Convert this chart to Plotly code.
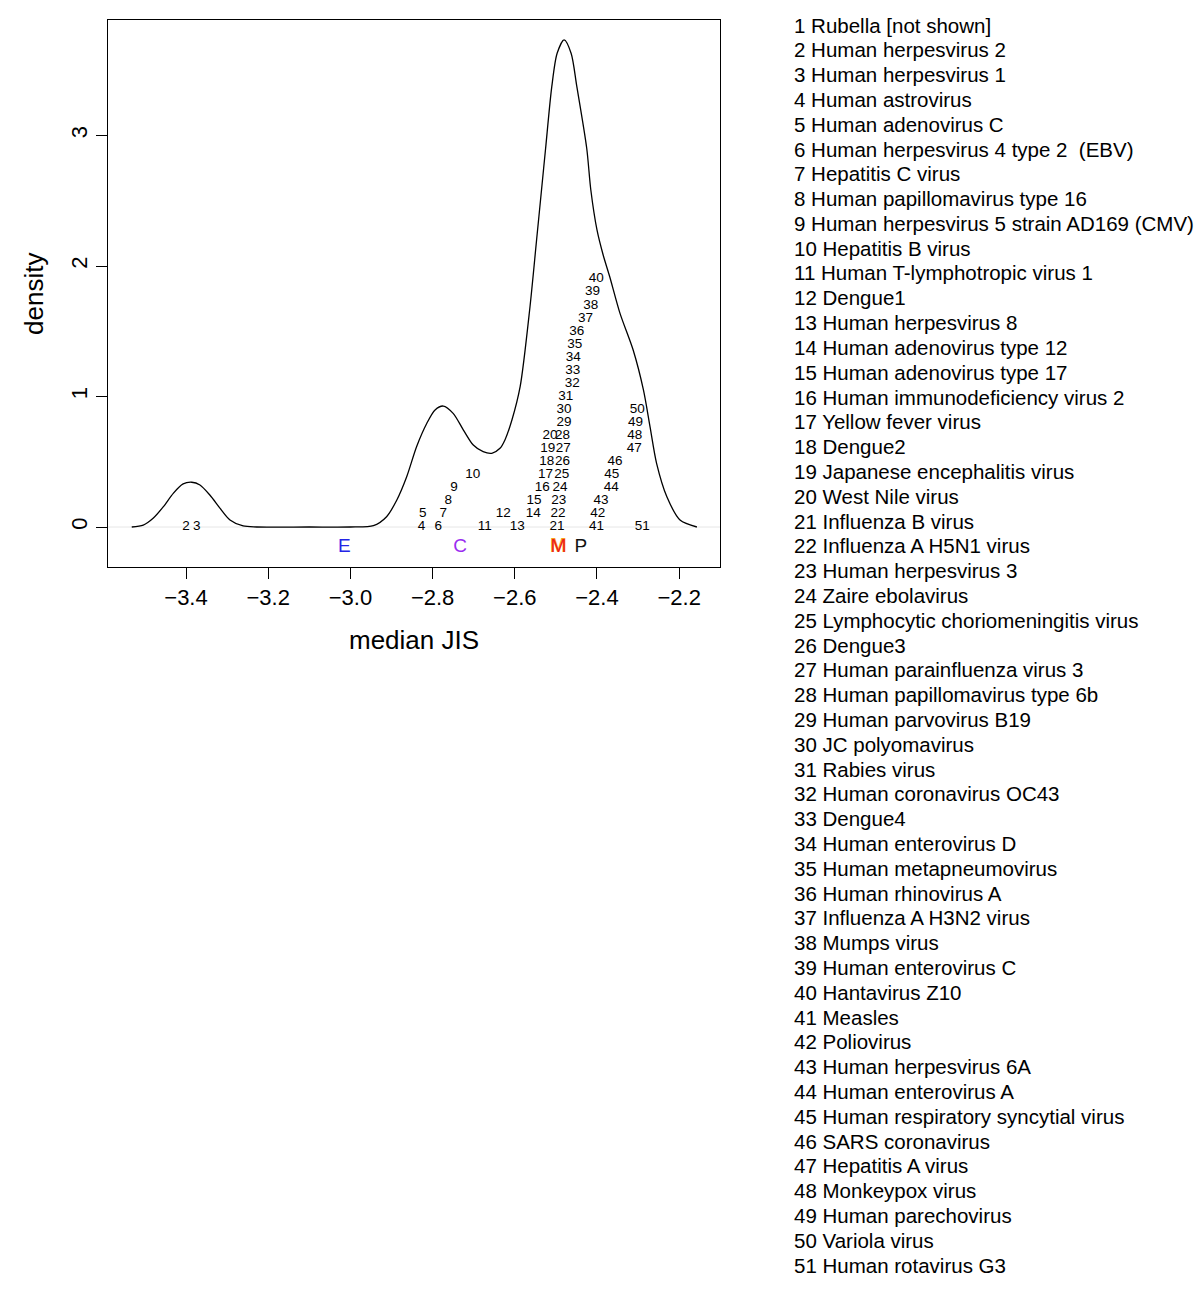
import plotly.graph_objects as go

# ---------------- data ----------------
# density curve (median JIS, density)
curve_x = [-3.532, -3.504, -3.480, -3.455, -3.431, -3.407, -3.386, -3.366, -3.342, -3.317,
           -3.293, -3.261, -3.228, -3.100, -3.000, -2.944, -2.912, -2.887, -2.863, -2.839,
           -2.814, -2.794, -2.774, -2.750, -2.725, -2.701, -2.677, -2.656, -2.636, -2.624,
           -2.607, -2.587, -2.563, -2.547, -2.535, -2.525, -2.510, -2.497, -2.480, -2.463,
           -2.449, -2.425, -2.415, -2.400, -2.385, -2.369, -2.344, -2.312, -2.287, -2.271,
           -2.255, -2.230, -2.198, -2.157]
curve_y = [0.000, 0.015, 0.067, 0.156, 0.258, 0.330, 0.343, 0.322, 0.245, 0.143,
           0.054, 0.008, 0.000, 0.000, 0.000, 0.010, 0.079, 0.207, 0.385, 0.615,
           0.795, 0.897, 0.927, 0.871, 0.743, 0.628, 0.577, 0.565, 0.603, 0.667,
           0.820, 1.075, 1.688, 2.199, 2.582, 2.902, 3.374, 3.630, 3.732, 3.630,
           3.374, 2.902, 2.582, 2.276, 2.084, 1.918, 1.637, 1.356, 1.050, 0.769,
           0.488, 0.232, 0.054, 0.000]

# virus numbers, their median JIS and stacking level
virus_id = list(range(2, 52))
virus_jis = [-3.400, -3.374, -2.827, -2.824, -2.786, -2.774, -2.762, -2.748, -2.702, -2.673,
             -2.628, -2.594, -2.555, -2.553, -2.533, -2.525, -2.522, -2.520, -2.514, -2.497,
             -2.495, -2.493, -2.490, -2.486, -2.484, -2.482, -2.484, -2.480, -2.480, -2.476,
             -2.460, -2.459, -2.458, -2.454, -2.449, -2.428, -2.415, -2.411, -2.402, -2.401,
             -2.398, -2.390, -2.365, -2.364, -2.356, -2.309, -2.308, -2.306, -2.302, -2.290]
virus_level = [0, 0, 0, 1, 0, 1, 2, 3, 4, 0,
               1, 0, 1, 2, 3, 4, 5, 6, 7, 0,
               1, 2, 3, 4, 5, 6, 7, 8, 9, 10,
               11, 12, 13, 14, 15, 16, 17, 18, 19, 0,
               1, 2, 3, 4, 5, 6, 7, 8, 9, 0]

# group markers along the axis
group_letters = ["E", "C", "M", "P"]
group_jis = [-3.015, -2.733, -2.494, -2.439]
group_colors = ["#2424e6", "#9a2cf0", "#ee1c1c", "#111111"]

legend_names = [
    "Rubella [not shown]", "Human herpesvirus 2", "Human herpesvirus 1", "Human astrovirus",
    "Human adenovirus C", "Human herpesvirus 4 type 2  (EBV)", "Hepatitis C virus",
    "Human papillomavirus type 16", "Human herpesvirus 5 strain AD169 (CMV)", "Hepatitis B virus",
    "Human T-lymphotropic virus 1", "Dengue1", "Human herpesvirus 8", "Human adenovirus type 12",
    "Human adenovirus type 17", "Human immunodeficiency virus 2", "Yellow fever virus", "Dengue2",
    "Japanese encephalitis virus", "West Nile virus", "Influenza B virus", "Influenza A H5N1 virus",
    "Human herpesvirus 3", "Zaire ebolavirus", "Lymphocytic choriomeningitis virus", "Dengue3",
    "Human parainfluenza virus 3", "Human papillomavirus type 6b", "Human parvovirus B19",
    "JC polyomavirus", "Rabies virus", "Human coronavirus OC43", "Dengue4", "Human enterovirus D",
    "Human metapneumovirus", "Human rhinovirus A", "Influenza A H3N2 virus", "Mumps virus",
    "Human enterovirus C", "Hantavirus Z10", "Measles", "Poliovirus", "Human herpesvirus 6A",
    "Human enterovirus A", "Human respiratory syncytial virus", "SARS coronavirus",
    "Hepatitis A virus", "Monkeypox virus", "Human parechovirus", "Variola virus",
    "Human rotavirus G3"]

x_ticks = [-3.4, -3.2, -3.0, -2.8, -2.6, -2.4, -2.2]
y_ticks = [0, 1, 2, 3]

# ---------------- layout constants (pixels) ----------------
W, H = 1200, 1289
PL, PR, PT, PB = 108, 720, 20, 567
FONT = "Liberation Sans, Arial, Helvetica, sans-serif"

fig = go.Figure()

fig.add_trace(go.Scatter(x=curve_x, y=curve_y, mode="lines",
                         line=dict(color="black", width=1.3, shape="spline", smoothing=0.8),
                         hoverinfo="skip", showlegend=False))

fig.add_trace(go.Scatter(x=virus_jis, y=[0.1 * l for l in virus_level], mode="text",
                         text=[str(i) for i in virus_id],
                         textfont=dict(family=FONT, size=13.5, color="black"),
                         textposition="middle center", showlegend=False))

# orange letter under the red M
fig.add_trace(go.Scatter(x=[group_jis[2]], y=[-0.153], mode="text", text=["<b>M</b>"],
                         textfont=dict(family=FONT, size=20, color="#f7a21b"),
                         showlegend=False))
fig.add_trace(go.Scatter(x=group_jis, y=[-0.153] * len(group_jis), mode="text",
                         text=group_letters,
                         textfont=dict(family=FONT, size=19, color=group_colors),
                         showlegend=False))

fig.add_shape(type="line", xref="x domain", yref="y", x0=0, x1=1, y0=0, y1=0,
              line=dict(color="#e6e6e6", width=1), layer="below")

annotations = []
for i, name in enumerate(legend_names):
    py = 25 + i * 24.8
    annotations.append(dict(text=f"{i + 1} {name}", xref="paper", yref="paper",
                            x=792 / W, y=1 - py / H, xanchor="left", yanchor="middle",
                            showarrow=False, font=dict(family=FONT, size=20.5, color="black")))
annotations.append(dict(text="median JIS", xref="paper", yref="paper",
                        x=(PL + PR) / 2 / W, y=1 - 640 / H, xanchor="center", yanchor="middle",
                        showarrow=False, font=dict(family=FONT, size=26, color="black")))
annotations.append(dict(text="density", xref="paper", yref="paper", textangle=-90,
                        x=34 / W, y=1 - 294 / H, xanchor="center", yanchor="middle",
                        showarrow=False, font=dict(family=FONT, size=26, color="black")))

fig.update_layout(
    width=W, height=H,
    margin=dict(l=0, r=0, t=0, b=0),
    paper_bgcolor="white", plot_bgcolor="white",
    showlegend=False,
    annotations=annotations,
    xaxis=dict(domain=[PL / W, PR / W], range=[-3.5898, -2.1007],
               tickvals=x_ticks, ticktext=[f"\u2212{abs(v):.1f}" for v in x_ticks],
               ticks="outside", ticklen=11, tickwidth=1, tickcolor="black",
               showline=True, linecolor="black", linewidth=1, mirror=True,
               showgrid=False, zeroline=False,
               tickfont=dict(family=FONT, size=22, color="black")),
    yaxis=dict(domain=[1 - PB / H, 1 - PT / H], range=[-0.3065, 3.885],
               tickvals=y_ticks, ticktext=[str(v) for v in y_ticks], tickangle=-90,
               ticks="outside", ticklen=11, tickwidth=1, tickcolor="black",
               showline=True, linecolor="black", linewidth=1, mirror=True,
               showgrid=False, zeroline=False,
               tickfont=dict(family=FONT, size=22, color="black")),
)

fig.write_html("out.html", config={"displayModeBar": False},
               post_script="document.body.style.margin='0px';document.body.style.padding='0px';")
